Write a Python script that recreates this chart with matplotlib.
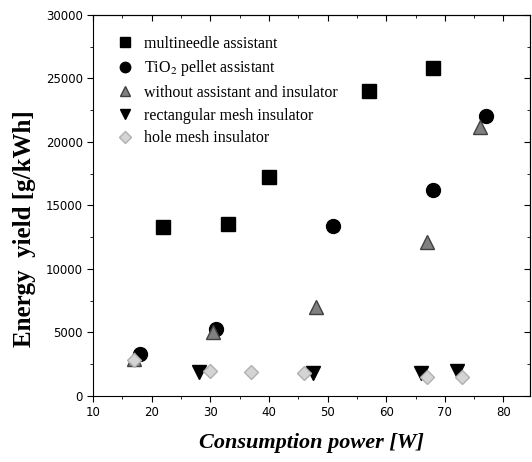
import matplotlib.pyplot as plt
from matplotlib.ticker import MultipleLocator

# data
sq_x = [22, 33, 40, 57, 68]
sq_y = [13300, 13500, 17200, 24000, 25800]
ci_x = [18, 31, 51, 68, 77]
ci_y = [3300, 5300, 13400, 16200, 22000]
tu_x = [17, 30.5, 48, 67, 76]
tu_y = [2900, 5000, 7000, 12100, 21200]
td_x = [28, 47.5, 66, 72]
td_y = [1900, 1800, 1800, 2000]
di_x = [17, 30, 37, 46, 67, 73]
di_y = [2800, 2000, 1900, 1800, 1500, 1500]

labels = ['multineedle assistant', 'TiO$_2$ pellet assistant',
          'without assistant and insulator', 'rectangular mesh insulator',
          'hole mesh insulator']

plt.rcParams['font.family'] = ['Liberation Serif', 'DejaVu Serif']
plt.rcParams['mathtext.fontset'] = 'stix'

fig = plt.figure(figsize=(5.32, 4.62), dpi=100)
ax = fig.add_axes([0.175, 0.143, 0.821, 0.825])

ax.plot(sq_x, sq_y, 's', ms=9.5, color='black', label=labels[0], zorder=3)
ax.plot(ci_x, ci_y, 'o', ms=10, color='black', label=labels[1], zorder=3)
ax.plot(tu_x, tu_y, '^', ms=10, color='#808080', mec='#404040', label=labels[2], zorder=4)
ax.plot(td_x, td_y, 'v', ms=10, color='black', label=labels[3], zorder=3)
ax.plot(di_x, di_y, 'D', ms=7.5, color='#d4d4d4', mec='#b0b0b0', label=labels[4], zorder=5)

ax.set_xlim(10, 84.5)
ax.set_ylim(0, 30000)
ax.xaxis.set_major_locator(MultipleLocator(10))
ax.xaxis.set_minor_locator(MultipleLocator(5))
ax.yaxis.set_major_locator(MultipleLocator(5000))
ax.yaxis.set_minor_locator(MultipleLocator(2500))
ax.tick_params(which='both', direction='out', labelsize=8.5)
ax.tick_params(which='major', length=4)
ax.tick_params(which='minor', length=2)
for lab in ax.get_xticklabels() + ax.get_yticklabels():
    lab.set_family('DejaVu Sans')

top = ax.secondary_xaxis('top')
top.xaxis.set_major_locator(MultipleLocator(10))
top.xaxis.set_minor_locator(MultipleLocator(5))
top.tick_params(which='both', direction='in', labeltop=False)
top.tick_params(which='major', length=4)
top.tick_params(which='minor', length=2)
right = ax.secondary_yaxis('right')
right.yaxis.set_major_locator(MultipleLocator(5000))
right.yaxis.set_minor_locator(MultipleLocator(2500))
right.tick_params(which='both', direction='in', labelright=False)
right.tick_params(which='major', length=4)
right.tick_params(which='minor', length=2)

ax.set_xlabel('Consumption power [W]', fontsize=16, fontweight='bold', fontstyle='italic', labelpad=10)
ax.set_ylabel('Energy  yield [g/kWh]', fontsize=18, fontweight='bold')
ax.yaxis.set_label_coords(-0.13, 0.44)

ax.legend(loc='upper left', frameon=False, fontsize=11.5, handletextpad=0.5,
          labelspacing=0.42, borderaxespad=0.9, markerscale=0.75, handlelength=1.4)

plt.savefig('out.png', dpi=100)
